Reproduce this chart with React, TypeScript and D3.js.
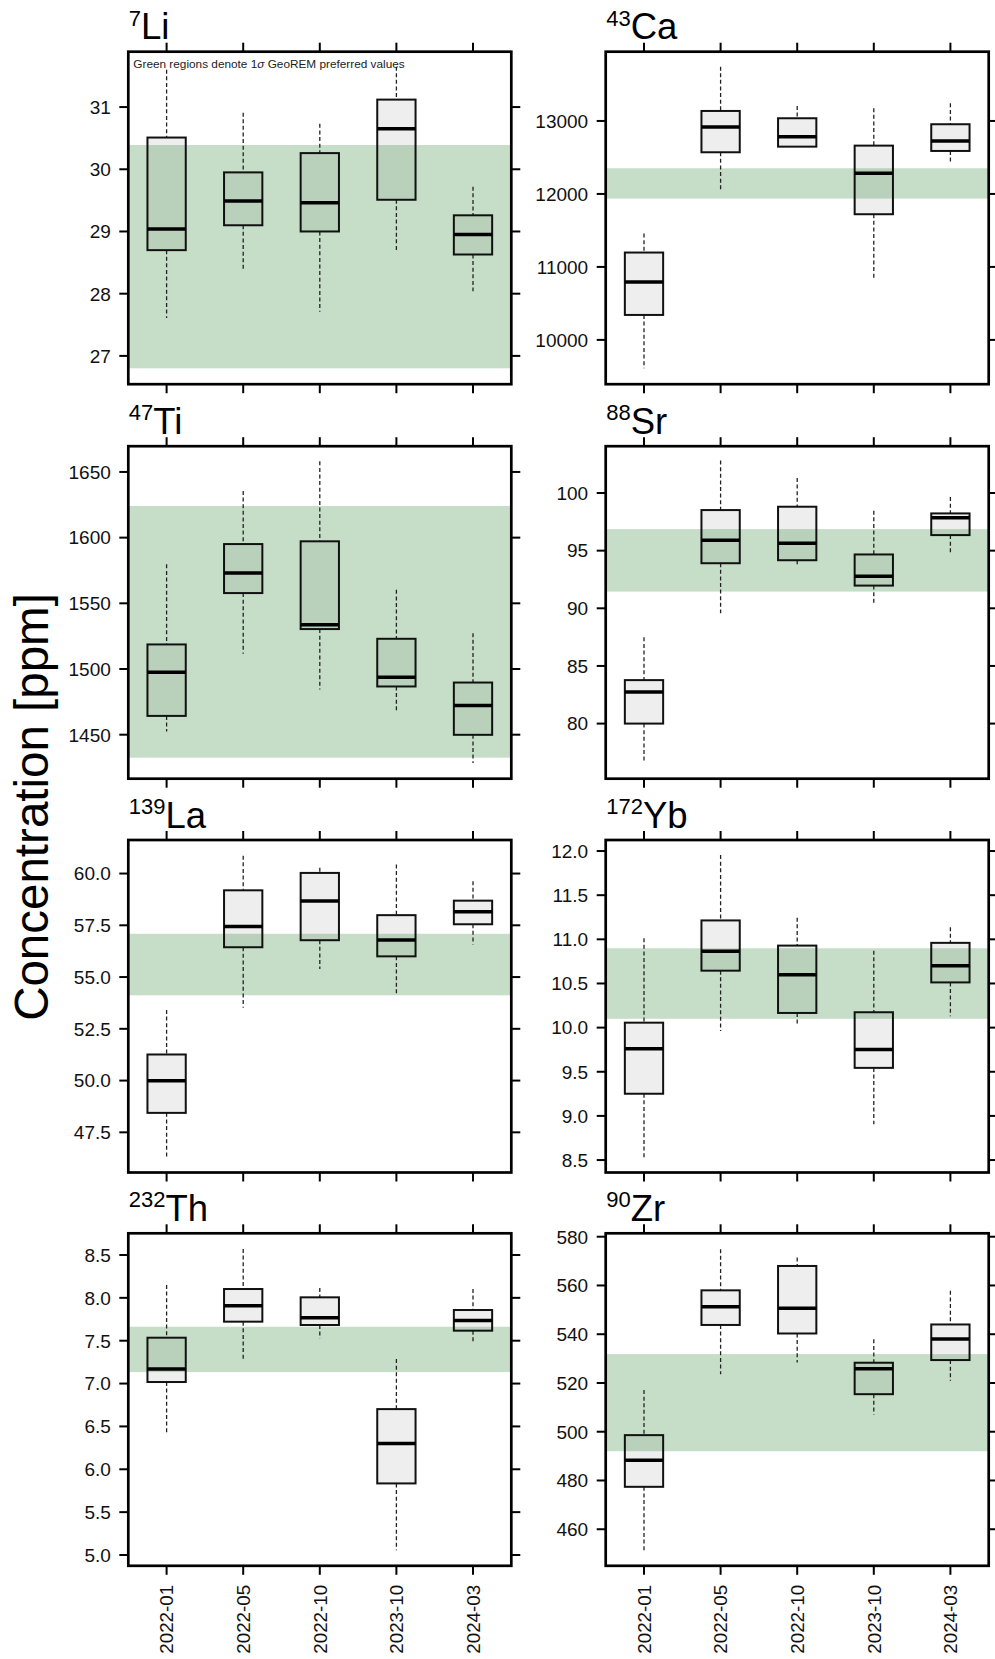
import * as d3 from 'd3';

// sampling campaigns
const dates = ['2022-01', '2022-05', '2022-10', '2023-10', '2024-03'];

// each row: [lower whisker, q1, median, q3, upper whisker] per campaign
const li7 = [
  [27.61, 28.7, 29.04, 30.51, 31.6],
  [28.39, 29.1, 29.49, 29.95, 30.91],
  [27.71, 29.0, 29.46, 30.26, 30.73],
  [28.7, 29.51, 30.65, 31.12, 31.65],
  [28.04, 28.63, 28.95, 29.26, 29.72],
];
const ca43 = [
  [9612, 10342, 10795, 11197, 11457],
  [12032, 12571, 12918, 13137, 13744],
  [12648, 12648, 12785, 13037, 13205],
  [10827, 11722, 12283, 12662, 13174],
  [12411, 12589, 12726, 12955, 13242],
];
const ti47 = [
  [1452.4, 1464.3, 1497.6, 1518.7, 1579.7],
  [1511.6, 1557.8, 1573.0, 1595.1, 1635.5],
  [1484.4, 1530.4, 1533.7, 1597.2, 1658.1],
  [1467.1, 1486.7, 1493.8, 1523.0, 1560.3],
  [1428.5, 1449.9, 1472.2, 1489.7, 1527.3],
];
const sr88 = [
  [76.75, 80.0, 82.75, 83.77, 87.48],
  [89.57, 93.91, 95.91, 98.52, 102.81],
  [93.77, 94.17, 95.65, 98.81, 101.3],
  [90.43, 91.97, 92.78, 94.67, 98.46],
  [94.72, 96.35, 97.86, 98.23, 99.65],
];
const la139 = [
  [46.27, 48.44, 49.99, 51.26, 53.41],
  [53.52, 56.44, 57.44, 59.19, 60.86],
  [55.39, 56.78, 58.67, 60.03, 60.28],
  [54.2, 56.0, 56.79, 57.99, 60.44],
  [56.57, 57.55, 58.15, 58.69, 59.63],
];
const yb172 = [
  [8.526, 9.251, 9.76, 10.056, 11.013],
  [9.961, 10.645, 10.865, 11.214, 11.954],
  [10.018, 10.166, 10.599, 10.929, 11.245],
  [8.906, 9.544, 9.752, 10.174, 10.872],
  [10.128, 10.512, 10.702, 10.96, 11.138],
];
const th232 = [
  [6.407, 7.018, 7.169, 7.535, 8.15],
  [7.286, 7.722, 7.909, 8.103, 8.57],
  [7.527, 7.683, 7.768, 8.006, 8.115],
  [5.056, 5.835, 6.302, 6.702, 7.286],
  [7.481, 7.617, 7.737, 7.858, 8.103],
];
const zr90 = [
  [451.4, 477.4, 488.3, 498.6, 517.1],
  [523.6, 543.8, 551.3, 558.0, 574.9],
  [528.4, 540.3, 550.7, 568.0, 571.5],
  [507.1, 515.4, 525.8, 528.3, 537.9],
  [520.9, 529.4, 538.0, 544.0, 557.8],
];

// GeoREM preferred values, 1 sigma range
const georemBands = [
  [26.8, 30.39],
  [11936, 12352],
  [1432.5, 1624.1],
  [91.45, 96.87],
  [54.12, 57.09],
  [10.1, 10.899],
  [7.134, 7.663],
  [492.0, 531.85],
];

// axis limits and ticks
const yLimits = [
  [26.545, 31.89],
  [9393, 13949],
  [1416.5, 1669.6],
  [75.22, 104.06],
  [45.56, 61.62],
  [8.359, 12.125],
  [4.874, 8.753],
  [445.0, 581.4],
];
const yTicks = [
  [27, 28, 29, 30, 31],
  [10000, 11000, 12000, 13000],
  [1450, 1500, 1550, 1600, 1650],
  [80, 85, 90, 95, 100],
  [47.5, 50, 52.5, 55, 57.5, 60],
  [8.5, 9, 9.5, 10, 10.5, 11, 11.5, 12],
  [5, 5.5, 6, 6.5, 7, 7.5, 8, 8.5],
  [460, 480, 500, 520, 540, 560, 580],
];
const massNumbers = ['7', '43', '47', '88', '139', '172', '232', '90'];
const elements = ['Li', 'Ca', 'Ti', 'Sr', 'La', 'Yb', 'Th', 'Zr'];
const tickDecimals = [0, 0, 0, 0, 1, 1, 1, 0];
const allStats = [li7, ca43, ti47, sr88, la139, yb172, th232, zr90];

const FONT = "'Liberation Sans', Arial, Helvetica, sans-serif";
const colX = [128.3, 605.7];
const rowY = [51.7, 446.2, 840, 1233.3];
const panelW = 383;
const panelH = 332.5;
const TICK = 9;

interface PanelProps {
  idx: number;
  x0: number;
  y0: number;
  showDates: boolean;
  note: boolean;
}

function Panel({ idx, x0, y0, showDates, note }: PanelProps) {
  const stats = allStats[idx];
  const [bLo, bHi] = georemBands[idx];

  const x = d3
    .scalePoint<string>()
    .domain(dates)
    .range([x0, x0 + panelW])
    .padding(0.5);
  const y = d3
    .scaleLinear()
    .domain(yLimits[idx])
    .range([y0 + panelH, y0]);

  const boxW = x.step() * 0.5;
  const fmt = d3.format(`.${tickDecimals[idx]}f`);
  const clipId = `clip-${idx}`;

  return (
    <g>
      <defs>
        <clipPath id={clipId}>
          <rect x={x0} y={y0} width={panelW} height={panelH} />
        </clipPath>
      </defs>
      <g clipPath={`url(#${clipId})`}>
        {/* box fills */}
        {stats.map((s, i) => (
          <rect
            key={`f${i}`}
            x={(x(dates[i]) ?? 0) - boxW / 2}
            y={y(s[3])}
            width={boxW}
            height={y(s[1]) - y(s[3])}
            fill='#eeeeee'
          />
        ))}
        {/* GeoREM band */}
        <rect
          x={x0}
          y={y(bHi)}
          width={panelW}
          height={y(bLo) - y(bHi)}
          fill='rgb(27,123,35)'
          fillOpacity={0.25}
        />
        {stats.map((s, i) => {
          const cx = x(dates[i]) ?? 0;
          return (
            <g key={`b${i}`}>
              <line
                x1={cx}
                x2={cx}
                y1={y(s[4])}
                y2={y(s[3])}
                stroke='#222'
                strokeWidth={1.3}
                strokeDasharray='4,2.6'
              />
              <line
                x1={cx}
                x2={cx}
                y1={y(s[1])}
                y2={y(s[0])}
                stroke='#222'
                strokeWidth={1.3}
                strokeDasharray='4,2.6'
              />
              <rect
                x={cx - boxW / 2}
                y={y(s[3])}
                width={boxW}
                height={y(s[1]) - y(s[3])}
                fill='none'
                stroke='#111'
                strokeWidth={2}
              />
              <line
                x1={cx - boxW / 2}
                x2={cx + boxW / 2}
                y1={y(s[2])}
                y2={y(s[2])}
                stroke='#000'
                strokeWidth={3.5}
              />
            </g>
          );
        })}
      </g>

      {/* frame */}
      <rect
        x={x0}
        y={y0}
        width={panelW}
        height={panelH}
        fill='none'
        stroke='#000'
        strokeWidth={2.7}
      />

      {/* y ticks, left and right */}
      {yTicks[idx].map((t) => (
        <g key={`yt${t}`}>
          <line x1={x0 - TICK} x2={x0} y1={y(t)} y2={y(t)} stroke='#000' strokeWidth={2} />
          <line
            x1={x0 + panelW}
            x2={x0 + panelW + TICK}
            y1={y(t)}
            y2={y(t)}
            stroke='#000'
            strokeWidth={2}
          />
          <text
            x={x0 - 17.5}
            y={y(t)}
            dy='0.36em'
            textAnchor='end'
            fontSize={19}
            fontFamily={FONT}
            fill='#111'
          >
            {fmt(t)}
          </text>
        </g>
      ))}

      {/* x ticks, top and bottom */}
      {dates.map((d) => (
        <g key={`xt${d}`}>
          <line x1={x(d)} x2={x(d)} y1={y0 - TICK} y2={y0} stroke='#000' strokeWidth={2} />
          <line
            x1={x(d)}
            x2={x(d)}
            y1={y0 + panelH}
            y2={y0 + panelH + TICK}
            stroke='#000'
            strokeWidth={2}
          />
          {showDates && (
            <text
              transform={`translate(${x(d)},${y0 + panelH + 19}) rotate(-90)`}
              dy='0.36em'
              textAnchor='end'
              fontSize={18.8}
              fontFamily={FONT}
              fill='#111'
            >
              {d}
            </text>
          )}
        </g>
      ))}

      {/* title */}
      <text x={x0 + 0.5} y={y0 - 12.5} fontFamily={FONT} fill='#000'>
        <tspan fontSize={22} dy={-13.5}>
          {massNumbers[idx]}
        </tspan>
        <tspan fontSize={36.5} dy={13.5}>
          {elements[idx]}
        </tspan>
      </text>

      {note && (
        <text x={x0 + 5} y={y0 + 16.6} fontSize={11.8} fontFamily={FONT} fill='#222'>
          Green regions denote 1<tspan fontStyle='italic'>σ</tspan> GeoREM preferred values
        </text>
      )}
    </g>
  );
}

export default function App() {
  return (
    <svg
      width={995}
      height={1659}
      viewBox='0 0 995 1659'
      style={{ position: 'absolute', left: 0, top: 0, background: '#fff' }}
    >
      <rect width={995} height={1659} fill='#fff' />
      {elements.map((_, i) => (
        <Panel
          key={i}
          idx={i}
          x0={colX[i % 2]}
          y0={rowY[Math.floor(i / 2)]}
          showDates={i >= 6}
          note={i === 0}
        />
      ))}
      <text
        transform='translate(48,807) rotate(-90)'
        textAnchor='middle'
        fontSize={47.5}
        fontFamily={FONT}
        fill='#000'
      >
        Concentration [ppm]
      </text>
    </svg>
  );
}
